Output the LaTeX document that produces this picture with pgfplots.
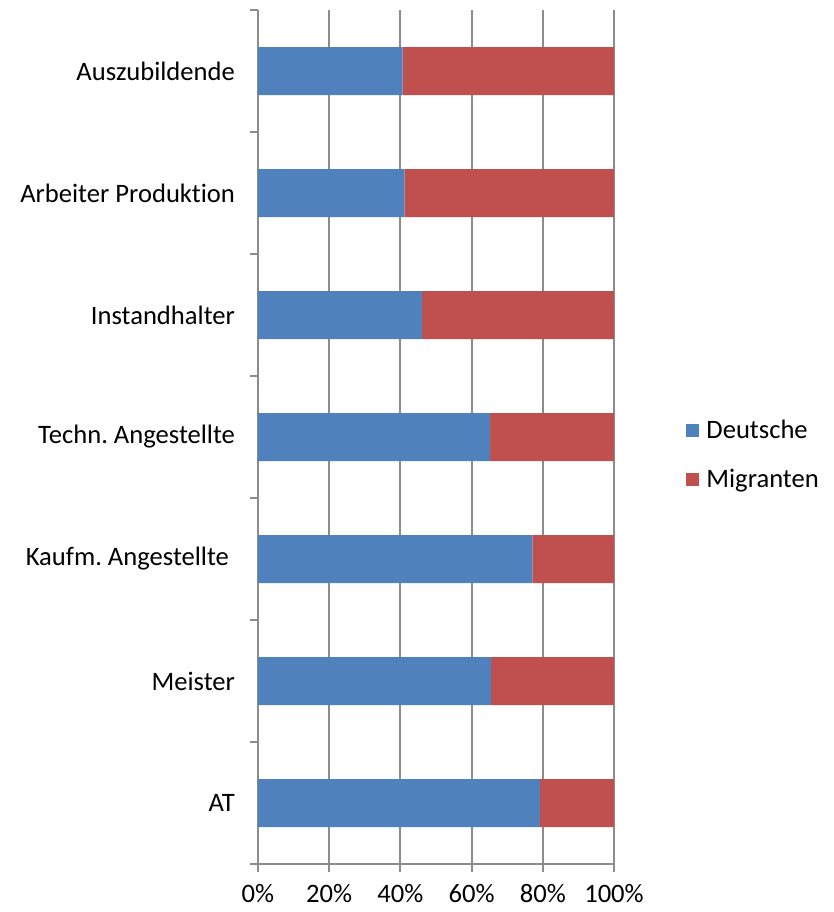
\documentclass[border=0pt]{standalone}
\usepackage{fontspec}
\setmainfont[Ligatures=NoCommon]{Carlito}
\usepackage{pgfplots}
\pgfplotsset{compat=1.18}
\definecolor{deu}{HTML}{4F81BD}
\definecolor{mig}{HTML}{C0504D}
\definecolor{axgray}{HTML}{8C8C8C}
\frenchspacing

\begin{document}
\begin{tikzpicture}
\begin{axis}[
  name=ax,
  scale only axis,
  width=178pt, height=427pt,
  xbar stacked,
  bar width=24pt,
  xmin=0, xmax=100,
  ymin=-0.5, ymax=6.5,
  xtick={0,20,...,100},
  xticklabels={0\%,20\%,40\%,60\%,80\%,100\%},
  ytick={-0.5,0.5,...,6.5},
  yticklabels={},
  extra y ticks={0,1,...,6},
  extra y tick labels={AT,Meister,Kaufm. Angestellte\hspace*{3pt},Techn. Angestellte,Instandhalter,Arbeiter Produktion,Auszubildende},
  extra y tick style={major tick length=0pt, grid=none},
  axis x line*=bottom, axis y line*=left,
  axis line style={axgray, line width=1pt, -},
  tick style={axgray, line width=1pt},
  tick align=outside,
  major tick length=4pt,
  xmajorgrids,
  major grid style={axgray, line width=1pt},
  ticklabel style={font=\fontsize{13.3}{16}\selectfont, text=black},
  yticklabel style={anchor=east, xshift=-8pt},
  xticklabel style={yshift=-2.5pt},
  legend style={at={(1,0.479)}, anchor=west, xshift=33pt, draw=none, fill=none,
    font=\fontsize{13.3}{16}\selectfont, row sep=10pt},
  legend cell align=left,
]
\addplot[fill=deu, draw=none,
  legend image code/.code={\fill[deu] (0pt,-3.25pt) rectangle (6.5pt,3.25pt); \path (0pt,0pt) -- (8pt,0pt);}]
  coordinates {(79.2,0) (65.5,1) (77.1,2) (65.2,3) (46.1,4) (41.1,5) (40.6,6)};
\addplot[fill=mig, draw=none,
  legend image code/.code={\fill[mig] (0pt,-3.25pt) rectangle (6.5pt,3.25pt); \path (0pt,0pt) -- (8pt,0pt);}]
  coordinates {(20.8,0) (34.5,1) (22.9,2) (34.8,3) (53.9,4) (58.9,5) (59.4,6)};
\legend{Deutsche,Migranten}
\end{axis}
\pgfresetboundingbox
\path[use as bounding box] ([xshift=-129pt,yshift=-24pt]ax.south west) rectangle ([xshift=288pt,yshift=432pt]ax.south west);
\end{tikzpicture}
\end{document}
